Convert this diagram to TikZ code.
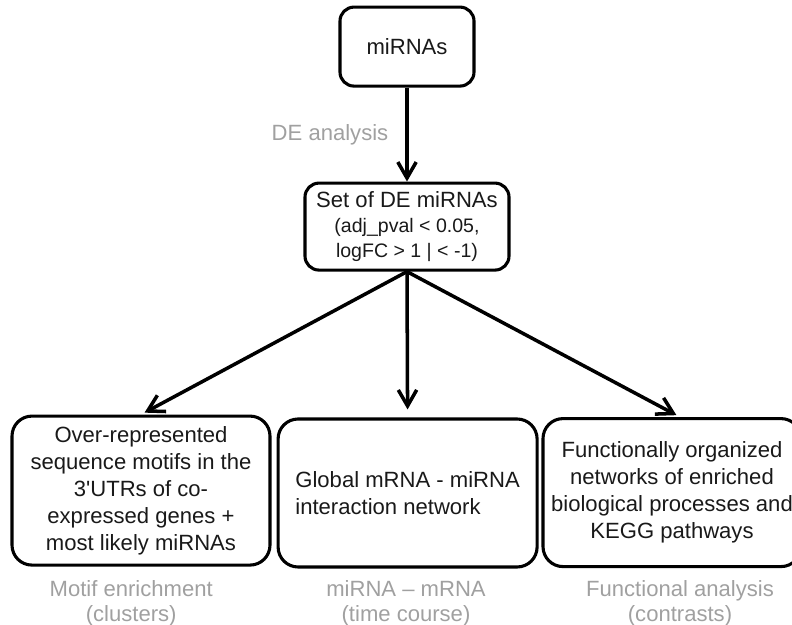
\documentclass[tikz,border=0pt]{standalone}
\usepackage{fontspec}
\setmainfont{Liberation Sans}
\usetikzlibrary{arrows.meta}
\definecolor{labelgray}{RGB}{160,160,160}
\definecolor{textblack}{RGB}{25,25,25}

\begin{document}
\begin{tikzpicture}[scale=1.0,
  bigfont/.style={font=\fontsize{15.7}{19.2}\selectfont},
  flowbox/.style={draw, line width=2.2pt, text=textblack, bigfont, align=center},
  arr/.style={-{Straight Barb[length=4mm,width=4.6mm]}, line width=2.5pt},
  steplabel/.style={text=labelgray, font=\fontsize{15.7}{17.5}\selectfont, align=center}]
\useasboundingbox (0,0) rectangle (19.8,15.625);

% Input
\node[flowbox, rounded corners=0.35cm, minimum width=3.35cm, minimum height=1.975cm] (mirnas) at (10.175,14.46) {miRNAs};

% DE step
\node[steplabel] (delabel) at (8.25,12.25) {DE analysis};
\node[flowbox, rounded corners=0.35cm, minimum width=5.1cm, minimum height=2.175cm,
  font=\fontsize{13.9}{17.8}\selectfont] (demirnas) at (10.175,9.96)
  {{\fontsize{15.7}{17.8}\selectfont Set of DE miRNAs}\\(adj\_pval < 0.05,\\logFC > 1 | < -1)};

% Result boxes
\node[flowbox, rounded corners=0.5cm, inner xsep=1pt, minimum width=6.45cm, minimum height=3.725cm] (motif) at (3.525,3.36)
  {Over-represented\\sequence motifs in the\\3\textquotesingle UTRs of co-\\expressed genes +\\most likely miRNAs};
\node[flowbox, rounded corners=0.5cm, align=left, minimum width=6.475cm, minimum height=3.7cm] (network) at (10.19,3.3)
  {Global mRNA - miRNA\\interaction network};
\node[flowbox, rounded corners=0.5cm, inner xsep=1pt, minimum width=6.45cm, minimum height=3.7cm] (functional) at (16.8,3.31)
  {Functionally organized\\networks of enriched\\biological processes and\\KEGG pathways};

% Analysis labels
\foreach \x/\name/\sub [count=\i] in {3.28/Motif enrichment/clusters, 10.15/miRNA -- mRNA/time course, 17.0/Functional analysis/contrasts}
  \node[steplabel] (analysis\i) at (\x,0.55) {\name\\(\sub)};

% Arrows
\draw[arr] (mirnas) -- (demirnas);
\draw[arr, shorten >=0.1cm] (demirnas.south) -- (motif.north);
\draw[arr, shorten >=0.2cm] (demirnas.south) -- (network.north);
\draw[arr, shorten >=0.1cm] (demirnas.south) -- ([xshift=0.2cm]functional.north);

\end{tikzpicture}
\end{document}
